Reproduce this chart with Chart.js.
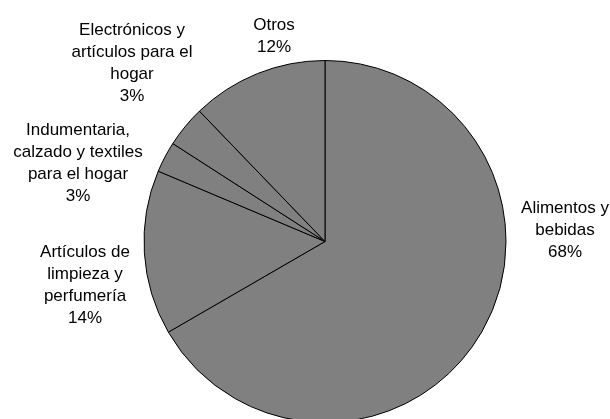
<html lang="es">
<head>
    <meta charset="UTF-8" />
    <title>Gasto por rubro</title>
    <style>
        html, body { margin: 0; padding: 0; background: #fff; overflow: hidden; }
        #box { width: 610px; height: 450px; }
    </style>
</head>
<body>
<div id="box">
    <canvas id="myChart" width="610" height="450"></canvas>
</div>

<script src="https://cdn.jsdelivr.net/npm/chart.js"></script>
<script>
    // categorias (en orden horario desde las 12)
    const categories = [
        ['Alimentos y', 'bebidas'],
        ['Artículos de', 'limpieza y', 'perfumería'],
        ['Indumentaria,', 'calzado y textiles', 'para el hogar'],
        ['Electrónicos y', 'artículos para el', 'hogar'],
        ['Otros']
    ];
    // valores (%)
    const values = [66.65, 14.7, 2.75, 3.7, 12.2];
    // porcentajes tal como aparecen en las etiquetas
    const pctLabels = ['68%', '14%', '3%', '3%', '12%'];

    // posicion de cada etiqueta respecto al centro de la torta (px)
    const labelOffsets = [[240, -11.5], [-240, 44], [-247, -78.5], [-193, -178.5], [-51, -205]];

    const labelPlugin = {
        id: 'outLabels',
        afterDraw(chart) {
            const c = chart.ctx;
            const arcs = chart.getDatasetMeta(0).data;
            c.save();
            c.font = '17px "Liberation Sans", Arial, sans-serif';
            c.fillStyle = '#000';
            c.textAlign = 'center';
            c.textBaseline = 'middle';
            const lh = 22;
            arcs.forEach((arc, i) => {
                const lines = categories[i].concat([pctLabels[i]]);
                const cx = arc.x + labelOffsets[i][0];
                const cy = arc.y + labelOffsets[i][1];
                const y0 = cy - (lines.length - 1) * lh / 2;
                lines.forEach((t, k) => c.fillText(t, cx, y0 + k * lh));
            });
            c.restore();
        }
    };

    const ctx = document.querySelector('#myChart');
    const myChart = new Chart(ctx, {
        type: 'pie',
        data: {
            labels: categories.map(l => l.join(' ')),
            datasets: [{
                data: values,
                backgroundColor: '#808080',
                borderColor: '#000',
                borderWidth: 1
            }]
        },
        options: {
            responsive: false,
            animation: false,
            layout: { padding: { top: 60, bottom: 27, left: 143, right: 103 } },
            plugins: {
                legend: { display: false },
                tooltip: { enabled: false }
            }
        },
        plugins: [labelPlugin]
    });
</script>
</body>
</html>
